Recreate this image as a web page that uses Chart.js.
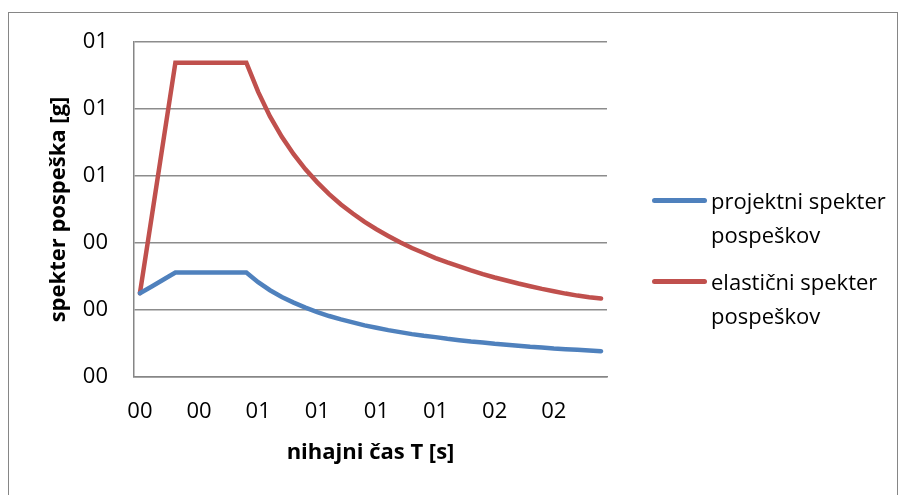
<!DOCTYPE html>
<html>
<head>
<meta charset="utf-8">
<script src="https://cdn.jsdelivr.net/npm/chart.js@4"></script>
<style>
  html, body { margin: 0; padding: 0; background: #fff; }
  body { width: 908px; height: 495px; position: relative; overflow: hidden; font-family: "Open Sans", sans-serif; }
  #frame { position: absolute; left: 8px; top: 12px; width: 890px; height: 520px; border: 1px solid #868686; box-sizing: border-box; }
  #wrap { position: absolute; left: 0; top: 0; width: 908px; height: 495px; }
  #legend { position: absolute; left: 0; top: 0; }
  .item { position: absolute; left: 652px; width: 250px; }
  .swatch { position: absolute; left: 0; width: 55px; height: 5px; border-radius: 3px; }
  .text { position: absolute; left: 59px; font-size: 22px; line-height: 34px; color: #000; white-space: nowrap; }
</style>
</head>
<body>
<div id="frame"></div>
<div id="wrap"><canvas id="chart" width="908" height="495"></canvas></div>
<div id="legend"></div>
<script>
//---data---
const periods = [0, 0.05, 0.1, 0.15, 0.2, 0.25, 0.3, 0.35, 0.4, 0.45,
  0.5, 0.55, 0.6, 0.65, 0.7, 0.75, 0.8, 0.85, 0.9, 0.95,
  1.0, 1.05, 1.1, 1.15, 1.2, 1.25, 1.3, 1.35, 1.4, 1.45,
  1.5, 1.55, 1.6, 1.65, 1.7, 1.75, 1.8, 1.85, 1.9, 1.95];

const designSpectrum = [0.25, 0.270, 0.291, 0.312, 0.312, 0.312, 0.312, 0.312, 0.312, 0.312,
  0.283, 0.259, 0.239, 0.222, 0.207, 0.194, 0.182, 0.172, 0.163, 0.154,
  0.147, 0.140, 0.134, 0.128, 0.123, 0.119, 0.114, 0.110, 0.106, 0.103,
  0.099, 0.096, 0.093, 0.090, 0.088, 0.085, 0.083, 0.081, 0.079, 0.077];

const elasticSpectrum = [0.25, 0.479, 0.709, 0.938, 0.938, 0.938, 0.938, 0.938, 0.938, 0.938,
  0.851, 0.778, 0.717, 0.665, 0.620, 0.581, 0.546, 0.515, 0.488, 0.463,
  0.441, 0.421, 0.402, 0.385, 0.370, 0.355, 0.342, 0.330, 0.318, 0.307,
  0.297, 0.288, 0.279, 0.271, 0.263, 0.256, 0.249, 0.243, 0.238, 0.234];

const seriesNames = [['projektni spekter', 'pospeškov'], ['elastični spekter', 'pospeškov']];
const seriesColors = ['#4F81BD', '#C0504D'];
const xTitle = 'nihajni čas T [s]';
const yTitle = 'spekter pospeška [g]';

//---Excel "00" number format---
function fmt00(v) {
  return String(Math.round(Number(v))).padStart(2, '0');
}

const fontFamily = '"Open Sans", sans-serif';

const chart = new Chart(document.getElementById('chart'), {
  type: 'line',
  data: {
    labels: periods,
    datasets: [
      { label: seriesNames[0].join(' '), data: designSpectrum, borderColor: seriesColors[0] },
      { label: seriesNames[1].join(' '), data: elasticSpectrum, borderColor: seriesColors[1] }
    ]
  },
  options: {
    responsive: false,
    animation: false,
    layout: { padding: { left: 0, top: 42, right: 301, bottom: 0 } },
    elements: {
      point: { radius: 0, hoverRadius: 0 },
      line: { borderWidth: 4.5, tension: 0, borderCapStyle: 'round', fill: false }
    },
    plugins: { legend: { display: false }, tooltip: { enabled: false } },
    scales: {
      x: {
        type: 'category',
        offset: true,
        grid: { display: false, drawTicks: false },
        border: { color: '#868686', width: 1.5 },
        ticks: {
          autoSkip: false, maxRotation: 0, padding: 22,
          color: '#000', font: { family: fontFamily, size: 22 },
          callback: function (value, index) {
            return index % 5 === 0 ? fmt00(this.getLabelForValue(value)) : '';
          }
        },
        title: {
          display: true, text: xTitle, color: '#000',
          font: { family: fontFamily, size: 22, weight: 'bold' },
          padding: { top: 0, bottom: 29 }
        },
        afterFit: (scale) => { scale.height = 118; }
      },
      y: {
        min: 0, max: 1,
        grid: { color: '#8c8c8c', lineWidth: 1.5, drawTicks: false },
        border: { color: '#868686', width: 1.5 },
        ticks: {
          stepSize: 0.2, padding: 26,
          color: '#000', font: { family: fontFamily, size: 22 },
          callback: (v) => fmt00(v)
        },
        title: {
          display: true, text: yTitle, color: '#000',
          font: { family: fontFamily, size: 22, weight: 'bold' },
          padding: { top: 46, bottom: 0 }
        },
        afterFit: (scale) => { scale.width = 134; }
      }
    }
  }
});

//---HTML legend built from the datasets---
const legendEl = document.getElementById('legend');
const legendTops = [183, 264];
chart.data.datasets.forEach((ds, i) => {
  const item = document.createElement('div');
  item.className = 'item';
  item.style.top = legendTops[i] + 'px';
  const sw = document.createElement('div');
  sw.className = 'swatch';
  sw.style.background = ds.borderColor;
  sw.style.top = '14.5px';
  const tx = document.createElement('div');
  tx.className = 'text';
  tx.innerHTML = seriesNames[i].join('<br>');
  item.appendChild(sw);
  item.appendChild(tx);
  legendEl.appendChild(item);
});
</script>
</body>
</html>
